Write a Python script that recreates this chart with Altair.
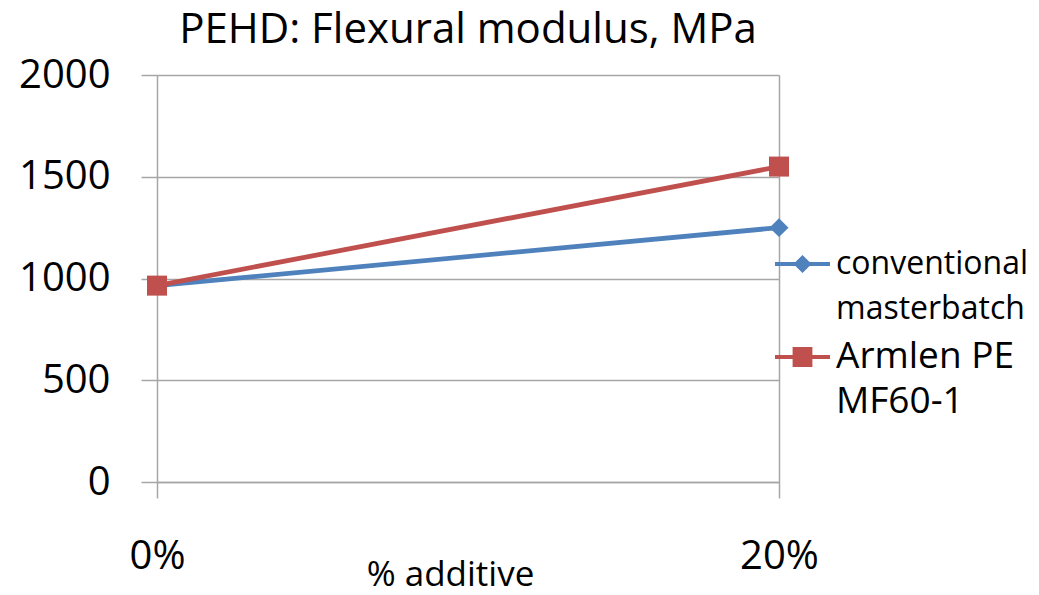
import altair as alt
import pandas as pd

categories = ["0%", "20%"]
series_names = ["conventional masterbatch", "Armlen PE MF60-1"]
conventional = [965, 1250]
armlen = [965, 1550]
colors = ["#4F81BD", "#C0504D"]
y_ticks = [0, 500, 1000, 1500, 2000]
legend_label_lines = [["conventional", "masterbatch"], ["Armlen PE", "MF60-1"]]
legend_font_sizes = [32, 37]

rows = []
for s, vals in zip(series_names, [conventional, armlen]):
    for c, v in zip(categories, vals):
        rows.append({"additive": c, "series": s, "value": v})
df = pd.DataFrame(rows)

FONT = "Open Sans"
GRAY = "#A6A6A6"

# legend symbols: line segment + marker
path_diamond = ("M-1,-0.07L1,-0.07L1,0.07L-1,0.07Z "
                "M0,-0.33L0.33,0L0,0.33L-0.33,0Z")
path_square = ("M-1,-0.07L1,-0.07L1,0.07L-1,0.07Z "
               "M-0.36,-0.36L0.36,-0.36L0.36,0.36L-0.36,0.36Z")
legend_paths = [path_diamond, path_square]
legend_y = [161.5, 254.5]

x_enc = alt.X(
    "additive:N",
    sort=categories,
    scale=alt.Scale(type="point", padding=0),
    axis=alt.Axis(
        title="% additive", labelAngle=0, grid=True, gridColor=GRAY, gridWidth=1.5,
        tickSize=16, tickColor=GRAY, tickWidth=1.5, domain=True, domainColor=GRAY,
        domainWidth=1.5, labelFont=FONT, labelFontSize=40, labelPadding=38,
        labelColor="#000000", titleFont=FONT, titleFontSize=35, titleFontWeight="normal",
        titleColor="#000000", titleX=293, titleY=75, titleBaseline="top", titleAlign="center",
        titleAnchor="start",
    ),
)
y_enc = alt.Y(
    "value:Q",
    scale=alt.Scale(domain=[0, 2000]),
    axis=alt.Axis(
        values=y_ticks, format="d", title=None, domain=False, grid=True, gridColor=GRAY,
        gridWidth=1.5, tickSize=16, tickColor=GRAY, tickWidth=1.5, labelFont=FONT,
        labelFontSize=40, labelPadding=31, labelColor="#000000",
    ),
)
color_scale = alt.Scale(domain=series_names, range=colors)

base = alt.Chart(df)

lines = base.mark_line(strokeWidth=4.8).encode(
    x=x_enc, y=y_enc,
    color=alt.Color("series:N", scale=color_scale, legend=None),
    detail="series:N",
)

pts_conv = base.transform_filter(alt.datum.series == series_names[0]).mark_point(
    shape="diamond", filled=True, size=360, opacity=1
).encode(x=x_enc, y=y_enc, color=alt.Color("series:N", scale=color_scale, legend=None))

pts_arm = base.transform_filter(alt.datum.series == series_names[1]).mark_point(
    shape="square", filled=True, size=400, opacity=1
).encode(x=x_enc, y=y_enc, color=alt.Color("series:N", scale=color_scale, legend=None))


def legend_layer(i):
    lines_txt = legend_label_lines[i]
    label_expr = "[" + ", ".join("'" + t + "'" for t in lines_txt) + "]"
    return base.transform_filter(alt.datum.series == series_names[i]).mark_point(
        filled=True, opacity=0, size=3025, color=colors[i]
    ).encode(
        x=x_enc, y=y_enc,
        shape=alt.Shape(
            "series:N",
            scale=alt.Scale(domain=[series_names[i]], range=[legend_paths[i]]),
            legend=alt.Legend(
                title=None, orient="none", legendX=618, legendY=legend_y[i], padding=0,
                labelFont=FONT, labelFontSize=legend_font_sizes[i], labelExpr=label_expr,
                labelBaseline="middle", labelOffset=6, labelLimit=0, labelColor="#000000",
                symbolSize=3025, symbolStrokeWidth=0, symbolOpacity=1,
                symbolFillColor=colors[i],
            ),
        ),
    )


chart = alt.layer(lines, pts_conv, pts_arm, legend_layer(0), legend_layer(1)).resolve_scale(
    shape="independent"
).resolve_legend(shape="independent").properties(
    width=622, height=407,
    autosize=alt.AutoSizeParams(type="none"),
    padding={"left": 149, "top": 67, "right": 250, "bottom": 105},
    title=alt.Title("PEHD: Flexural modulus, MPa", font=FONT, fontSize=42, fontWeight="normal",
                    color="#000000", anchor="middle", frame="group", offset=3),
).configure(
    background="white",
    view=alt.ViewConfig(stroke="transparent"),
    style={"guide-label": {"lineHeight": 45}},
)

chart.save("out.html", embed_options={"renderer": "svg", "actions": False})
